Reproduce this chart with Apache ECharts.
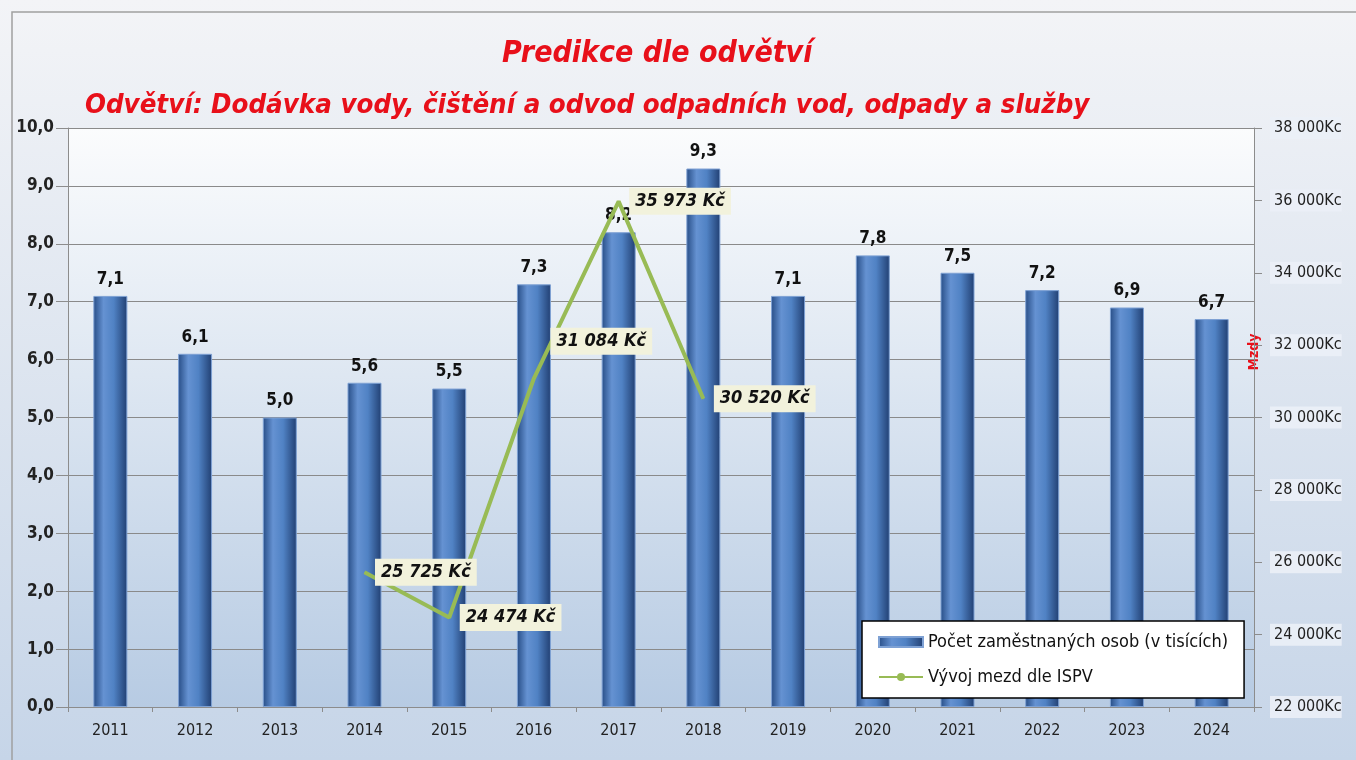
<!DOCTYPE HTML>
<html>
<head>
    <title>Predikce dle odvětví</title>
    <meta http-equiv="Content-Type" content="text/html; charset=UTF-8"/>
    <script type="text/javascript" src="https://cdn.jsdelivr.net/npm/echarts@6/dist/echarts.min.js"></script>
    <style type="text/css">
        html, body { margin: 0; padding: 0; }
    </style>
</head>
<body>
<div id="main" style="width: 1356px; height: 760px;"></div>
<script type="text/javascript">
    var myChart = echarts.init(document.getElementById('main'));

    // roky
    var years = ['2011', '2012', '2013', '2014', '2015', '2016', '2017', '2018', '2019', '2020', '2021', '2022', '2023', '2024'];
    // počet zaměstnaných osob (v tisících)
    var employees = [7.1, 6.1, 5.0, 5.6, 5.5, 7.3, 8.2, 9.3, 7.1, 7.8, 7.5, 7.2, 6.9, 6.7];
    // mzdy dle ISPV (Kč), jen 2014-2018
    var wages = [null, null, null, 25725, 24474, 31084, 35973, 30520, null, null, null, null, null, null];

    var font = '"Liberation Sans Narrow", "DejaVu Sans Condensed", sans-serif';

    function thousands(v) {
        return String(v).replace(/\B(?=(\d{3})+(?!\d))/g, ' ');
    }

    var option = {
        backgroundColor: {
            type: 'linear', x: 0, y: 0, x2: 0, y2: 1,
            colorStops: [{offset: 0, color: '#f3f4f7'}, {offset: 1, color: '#c6d5e8'}]
        },
        textStyle: {fontFamily: font},
        title: [{
            text: 'Predikce dle odvětví',
            left: 497,
            top: 34,
            textStyle: {color: '#e8101a', fontSize: 30, fontStyle: 'italic', fontWeight: 'bold', fontFamily: font}
        }, {
            text: 'Odvětví: Dodávka vody, čištění a odvod odpadních vod, odpady a služby',
            left: 80,
            top: 87,
            textStyle: {color: '#e8101a', fontSize: 27.4, fontStyle: 'italic', fontWeight: 'bold', fontFamily: font}
        }],
        legend: {
            orient: 'vertical',
            left: 862,
            top: 621,
            padding: [12, 16, 12, 16],
            itemGap: 17,
            itemWidth: 44,
            itemHeight: 10,
            backgroundColor: '#ffffff',
            borderColor: '#000000',
            borderWidth: 1.5,
            textStyle: {fontSize: 18, color: '#111', fontFamily: font},
            data: [
                {name: 'Počet zaměstnaných osob (v tisících)', icon: 'rect'},
                {name: 'Vývoj mezd dle ISPV'}
            ]
        },
        grid: {
            left: 68, right: 102, top: 128, bottom: 53,
            show: true,
            borderWidth: 0,
            backgroundColor: {
                type: 'linear', x: 0, y: 0, x2: 0, y2: 1,
                colorStops: [{offset: 0, color: '#fbfcfd'}, {offset: 1, color: '#b7cbe3'}]
            }
        },
        xAxis: {
            type: 'category',
            data: years,
            axisLine: {lineStyle: {color: '#8c8c8c'}},
            axisTick: {show: true, alignWithLabel: false, lineStyle: {color: '#8c8c8c'}},
            axisLabel: {color: '#222', fontSize: 16, margin: 16, fontFamily: font}
        },
        yAxis: [{
            type: 'value',
            min: 0, max: 10, interval: 1,
            axisLine: {show: true, lineStyle: {color: '#8c8c8c'}},
            axisTick: {show: true, length: 12, lineStyle: {color: '#8c8c8c'}},
            splitLine: {lineStyle: {color: '#8a8a8a', width: 1.2}},
            axisLabel: {
                color: '#222', fontSize: 17, fontWeight: 'bold', margin: 14, fontFamily: font,
                formatter: function (v) { return v.toFixed(1).replace('.', ','); }
            }
        }, {
            type: 'value',
            min: 22000, max: 38000, interval: 2000,
            position: 'right',
            axisLine: {show: true, lineStyle: {color: '#8c8c8c'}},
            axisTick: {show: true, length: 8, lineStyle: {color: '#8c8c8c'}},
            splitLine: {show: false},
            axisLabel: {
                color: '#222', fontSize: 16, margin: 16, fontFamily: font,
                backgroundColor: 'rgba(235,240,247,0.9)',
                padding: [3, 0, 3, 4],
                formatter: function (v) { return thousands(v) + 'Kc'; }
            }
        }],
        series: [{
            name: 'Počet zaměstnaných osob (v tisících)',
            type: 'bar',
            barWidth: 34,
            data: employees,
            itemStyle: {
                color: {
                    type: 'linear', x: 0, y: 0, x2: 1, y2: 0,
                    colorStops: [
                        {offset: 0, color: '#274d86'},
                        {offset: 0.3, color: '#6592d2'},
                        {offset: 0.6, color: '#5082c4'},
                        {offset: 1, color: '#213f72'}
                    ]
                },
                borderColor: '#7ea1d4',
                borderWidth: 1
            },
            label: {
                show: true,
                position: 'top',
                distance: 8,
                color: '#111',
                fontSize: 17,
                fontWeight: 'bold',
                fontFamily: font,
                formatter: function (p) { return p.value.toFixed(1).replace('.', ','); }
            }
        }, {
            name: 'Vývoj mezd dle ISPV',
            type: 'line',
            yAxisIndex: 1,
            data: wages,
            symbol: 'circle',
            symbolSize: 1,
            showSymbol: true,
            lineStyle: {color: '#98bb55', width: 4},
            itemStyle: {color: '#98bb55'},
            label: {
                show: true,
                position: 'right',
                distance: 10,
                color: '#111',
                fontSize: 18,
                fontWeight: 'bold',
                fontStyle: 'italic',
                fontFamily: font,
                backgroundColor: '#f2f2dc',
                padding: [5, 6, 4, 6],
                formatter: function (p) { return p.value == null ? '' : thousands(p.value) + ' Kč'; }
            },
            labelLayout: function (params) {
                if (params.dataIndex === 5) {
                    return {dx: 6, dy: -37};
                }
                return {};
            },
            z: 5
        }],
        graphic: [{
            type: 'rect',
            shape: {x: 12, y: 12, width: 1350, height: 760},
            style: {fill: 'none', stroke: '#a0a0a0', lineWidth: 1.5},
            silent: true
        }, {
            type: 'text',
            x: 1247,
            y: 352,
            rotation: Math.PI / 2,
            style: {
                text: 'Mzdy', fill: '#e8101a', fontSize: 14, fontWeight: 'bold', fontFamily: font,
                align: 'center', verticalMiddle: 'middle'
            }
        }]
    };
    myChart.setOption(option);
</script>
</body>
</html>
